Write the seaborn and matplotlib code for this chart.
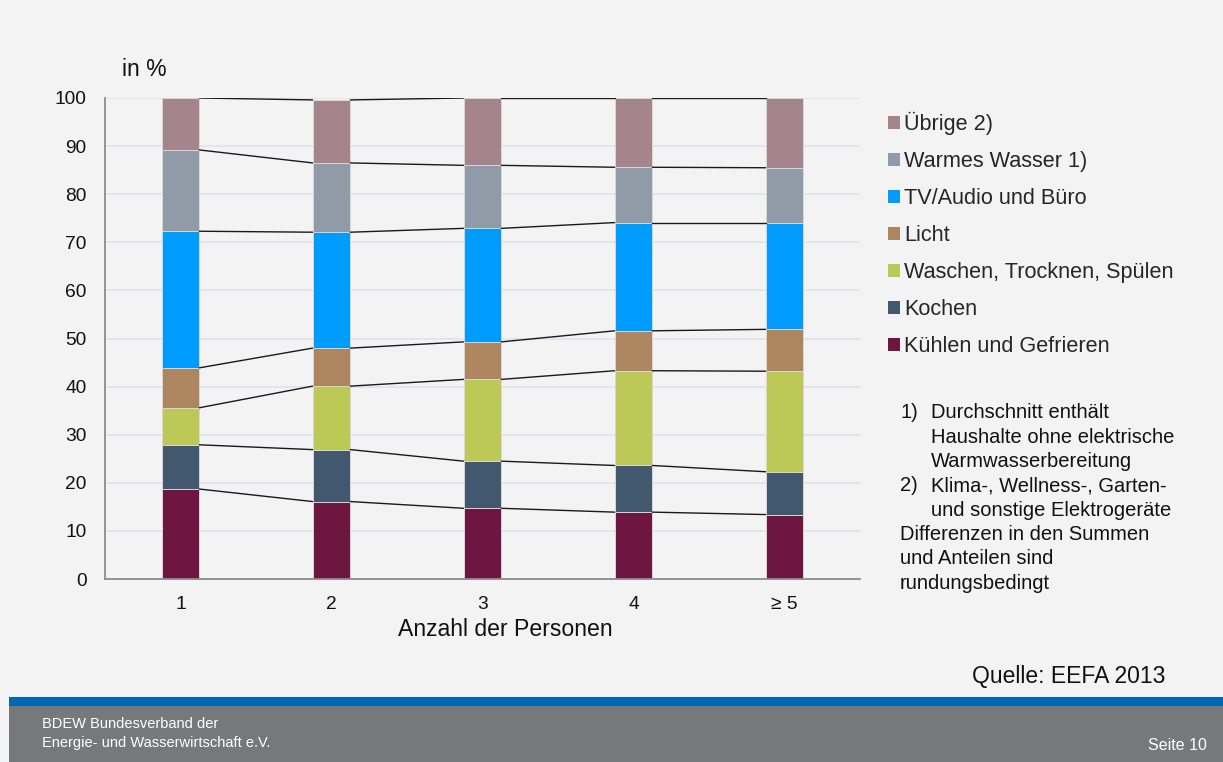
import numpy as np
import pandas as pd
import seaborn as sns
from matplotlib import pyplot as plt
from matplotlib.patches import Patch, Rectangle

# Stromverbrauch im Haushalt nach Anwendungen, in %
personen = ["1", "2", "3", "4", "≥ 5"]
kategorien = ["Kühlen und Gefrieren", "Kochen", "Waschen, Trocknen, Spülen", "Licht",
              "TV/Audio und Büro", "Warmes Wasser 1)", "Übrige 2)"]
kuehlen = [18.7, 16.1, 14.7, 13.9, 13.4]
kochen = [9.2, 10.8, 9.8, 9.7, 8.9]
waschen = [7.7, 13.2, 17.0, 19.7, 20.9]
licht = [8.3, 7.9, 7.8, 8.3, 8.7]
tv_buero = [28.4, 24.1, 23.6, 22.5, 22.2]
warmwasser = [16.9, 14.4, 13.1, 11.5, 11.4]
uebrige = [10.8, 13.1, 14.0, 14.4, 14.5]
farben = ["#6d1740", "#42586f", "#bdc957", "#ad855f", "#009bff", "#919ba7", "#a6848d"]

fussnoten = [("1)", "Durchschnitt enthält"), ("", "Haushalte ohne elektrische"),
             ("", "Warmwasserbereitung"), ("2)", "Klima-, Wellness-, Garten-"),
             ("", "und sonstige Elektrogeräte")]
hinweis = ["Differenzen in den Summen", "und Anteilen sind", "rundungsbedingt"]

werte = [kuehlen, kochen, waschen, licht, tv_buero, warmwasser, uebrige]
rows = []
for kat, w in zip(kategorien, werte):
    for p, v in zip(personen, w):
        rows.append({"Kategorie": kat, "Personen": p, "Wert": v})
df = pd.DataFrame(rows)
df["Kumuliert"] = df.groupby("Personen")["Wert"].cumsum()
farbe = dict(zip(kategorien, farben))

sns.set_style("white")
plt.rcParams["font.family"] = ["Liberation Sans", "DejaVu Sans"]

W, H = 1223, 762
fig = plt.figure(figsize=(W / 100, H / 100), dpi=100, facecolor="#f3f3f3")
ax = fig.add_axes([105 / W, 1 - 579 / H, 755 / W, 481 / H])
ax.set_facecolor("#f3f3f3")

bw = 0.25
# stacked bars: draw cumulative totals from the top down
for kat in reversed(kategorien):
    sns.barplot(data=df[df.Kategorie == kat], x="Personen", y="Kumuliert", order=personen,
                color=farbe[kat], saturation=1, width=bw, errorbar=None,
                edgecolor="#d8d8d8", linewidth=0.7, ax=ax, zorder=2)

# series lines between the bars
for kat in kategorien:
    cum = df[df.Kategorie == kat].set_index("Personen").loc[personen, "Kumuliert"].values
    for i in range(len(personen) - 1):
        ax.plot([i + bw / 2, i + 1 - bw / 2], [cum[i], cum[i + 1]],
                color="#1a1a1a", lw=1.0, zorder=3)

ax.set_xlim(-0.5, len(personen) - 0.5)
ax.set_ylim(0, 100)
ax.set_yticks(range(0, 101, 10))
ax.set_xlabel("")
ax.set_ylabel("")
ax.yaxis.grid(True, color="#dde1e8", lw=1.1)
ax.set_axisbelow(True)
for s in ["top", "right"]:
    ax.spines[s].set_visible(False)
for s in ["left", "bottom"]:
    ax.spines[s].set_color("#8c8c8c")
    ax.spines[s].set_linewidth(1.3)
ax.tick_params(axis="y", length=4.3, color="#8c8c8c", pad=9.0, labelsize=13.8, labelcolor="#111111")
ax.tick_params(axis="x", length=0, pad=12.5, labelsize=13.8, labelcolor="#111111")

fig.text(144 / W, 1 - 69 / H, "in %", ha="center", va="center", fontsize=16.5, color="#111111")
fig.text(505 / W, 1 - 630 / H, "Anzahl der Personen", ha="center", va="center",
         fontsize=16.6, color="#111111")
fig.text(1165 / W, 1 - 676 / H, "Quelle: EEFA 2013", ha="right", va="center",
         fontsize=16.5, color="#111111")

handles = [Patch(facecolor=farbe[k], edgecolor="none", label=k) for k in reversed(kategorien)]
fig.legend(handles=handles, loc="upper left", bbox_to_anchor=(888 / W, 1 - 112 / H),
           frameon=False, fontsize=15.6, handlelength=0.54, handleheight=0.54,
           handletextpad=0.2, labelspacing=0.74, borderpad=0, borderaxespad=0)

y = 413
for num, txt in fussnoten:
    if num:
        fig.text(900 / W, 1 - y / H, num, ha="left", va="center", fontsize=14.5, color="#111111")
    fig.text(931 / W, 1 - y / H, txt, ha="left", va="center", fontsize=14.5, color="#111111")
    y += 24.3
for txt in hinweis:
    fig.text(900 / W, 1 - y / H, txt, ha="left", va="center", fontsize=14.5, color="#111111")
    y += 24.3

# footer bands
fig.patches.append(Rectangle((9 / W, 0), 1 - 9 / W, 56 / H, transform=fig.transFigure,
                             facecolor="#77787a", edgecolor="none", zorder=0))
fig.patches.append(Rectangle((9 / W, 56 / H), 1 - 9 / W, 9 / H, transform=fig.transFigure,
                             facecolor="#0067b1", edgecolor="none", zorder=0))
fig.text(42 / W, 1 - 724.5 / H, "BDEW Bundesverband der", ha="left", va="center",
         fontsize=10.5, color="white")
fig.text(42 / W, 1 - 743 / H, "Energie- und Wasserwirtschaft e.V.", ha="left", va="center",
         fontsize=10.5, color="white")
fig.text(1207 / W, 1 - 745 / H, "Seite 10", ha="right", va="center", fontsize=11.5, color="white")

fig.savefig("out.png", dpi=100, facecolor=fig.get_facecolor())
